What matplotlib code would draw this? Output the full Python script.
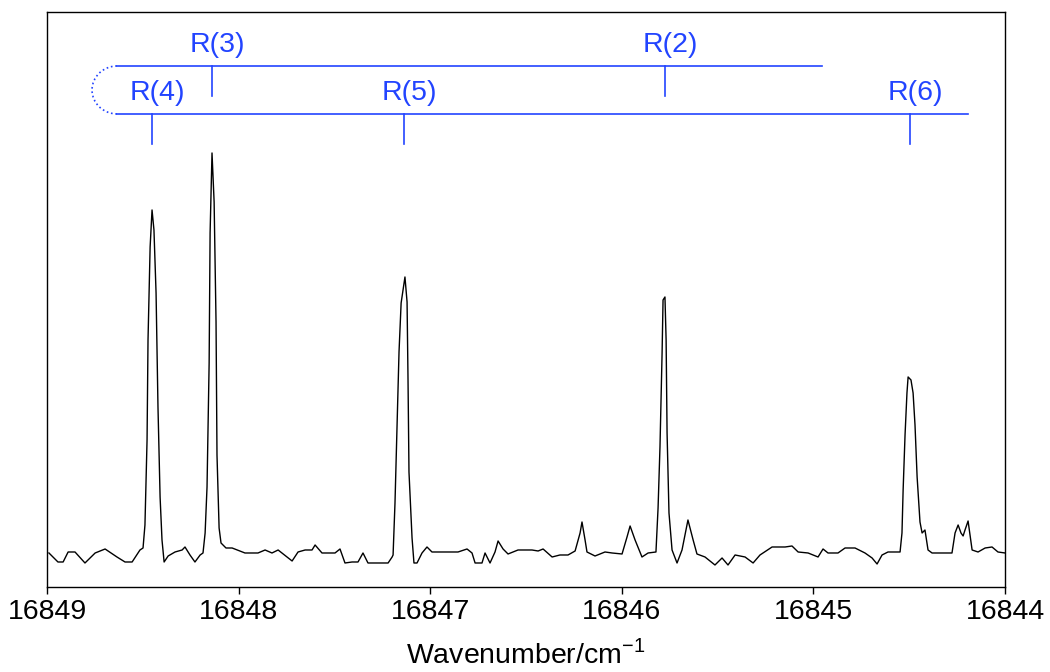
import matplotlib.pyplot as plt
from matplotlib.patches import Arc

plt.rcParams['font.family'] = ['Liberation Sans', 'DejaVu Sans']
plt.rcParams['mathtext.fontset'] = 'custom'
plt.rcParams['mathtext.rm'] = 'Liberation Sans'

# spectrum (wavenumber / cm-1, intensity arb. units)
wavenumber = [
    16848.990, 16848.943, 16848.916, 16848.890, 16848.854, 16848.802, 16848.749, 16848.697,
    16848.635, 16848.593, 16848.556, 16848.515, 16848.499, 16848.489, 16848.478, 16848.473,
    16848.462, 16848.452, 16848.442, 16848.431, 16848.421, 16848.410, 16848.400, 16848.389,
    16848.368, 16848.332, 16848.295, 16848.280, 16848.254, 16848.228, 16848.201, 16848.186,
    16848.175, 16848.165, 16848.154, 16848.149, 16848.139, 16848.128, 16848.118, 16848.113,
    16848.102, 16848.092, 16848.066, 16848.034, 16847.967, 16847.899, 16847.862, 16847.826,
    16847.794, 16847.721, 16847.690, 16847.653, 16847.617, 16847.601, 16847.565, 16847.497,
    16847.471, 16847.445, 16847.408, 16847.377, 16847.351, 16847.325, 16847.220, 16847.199,
    16847.194, 16847.184, 16847.173, 16847.163, 16847.152, 16847.142, 16847.132, 16847.121,
    16847.116, 16847.111, 16847.095, 16847.085, 16847.069, 16847.043, 16847.017, 16846.991,
    16846.855, 16846.808, 16846.782, 16846.766, 16846.730, 16846.714, 16846.688, 16846.662,
    16846.646, 16846.620, 16846.594, 16846.542, 16846.469, 16846.437, 16846.411, 16846.364,
    16846.323, 16846.281, 16846.244, 16846.218, 16846.208, 16846.192, 16846.182, 16846.140,
    16846.088, 16846.051, 16845.999, 16845.973, 16845.957, 16845.931, 16845.895, 16845.863,
    16845.822, 16845.811, 16845.801, 16845.790, 16845.785, 16845.775, 16845.769, 16845.764,
    16845.754, 16845.738, 16845.712, 16845.686, 16845.655, 16845.628, 16845.608, 16845.566,
    16845.514, 16845.477, 16845.446, 16845.409, 16845.357, 16845.315, 16845.279, 16845.216,
    16845.148, 16845.112, 16845.080, 16845.028, 16844.976, 16844.950, 16844.924, 16844.872,
    16844.835, 16844.783, 16844.731, 16844.694, 16844.668, 16844.642, 16844.611, 16844.559,
    16844.548, 16844.538, 16844.532, 16844.522, 16844.512, 16844.506, 16844.491, 16844.480,
    16844.470, 16844.459, 16844.444, 16844.433, 16844.418, 16844.402, 16844.381, 16844.329,
    16844.277, 16844.261, 16844.245, 16844.230, 16844.219, 16844.209, 16844.193, 16844.172,
    16844.141, 16844.104, 16844.068, 16844.037, 16844.000,
]
intensity = [
    34, 25, 25, 35, 35, 24, 34, 38,
    30, 25, 25, 37, 39, 62, 147, 247,
    340, 377, 357, 294, 180, 90, 47, 25,
    31, 35, 37, 40, 32, 25, 32, 34,
    54, 100, 224, 354, 434, 385, 265, 132,
    59, 44, 39, 39, 34, 34, 37, 34,
    37, 26, 35, 37, 37, 42, 34, 34,
    38, 24, 25, 25, 34, 24, 24, 30,
    32, 84, 164, 235, 284, 297, 310, 285,
    207, 115, 49, 24, 24, 34, 40, 35,
    35, 38, 34, 24, 24, 34, 24, 35,
    46, 38, 33, 37, 37, 36, 38, 30,
    32, 32, 36, 54, 65, 47, 35, 31,
    35, 34, 33, 50, 61, 47, 30, 34,
    35, 79, 140, 234, 287, 290, 247, 154,
    74, 37, 24, 37, 67, 47, 33, 30,
    22, 29, 22, 32, 30, 24, 32, 40,
    40, 41, 35, 34, 30, 38, 34, 34,
    39, 39, 34, 29, 23, 32, 35, 35,
    35, 54, 97, 152, 194, 210, 207, 194,
    162, 110, 65, 54, 57, 37, 34, 34,
    34, 54, 62, 54, 51, 57, 66, 37,
    35, 39, 40, 35, 34,
]

# line assignments
upper_labels = ['R(3)', 'R(2)']
upper_pos = [16848.139, 16845.775]
lower_labels = ['R(4)', 'R(5)', 'R(6)']
lower_pos = [16848.452, 16847.137, 16844.496]
upper_start, upper_end = 16848.635, 16844.955
lower_start, lower_end = 16848.635, 16844.193
upper_y, lower_y = 521, 473
tick_len = 30

blue = '#2244ff'
fig = plt.figure(figsize=(10.5, 6.72), dpi=100)
ax = fig.add_axes([0.0448, 0.1265, 0.9124, 0.8557])

ax.plot(wavenumber, intensity, color='black', lw=1.0)

ax.plot([upper_start, upper_end], [upper_y, upper_y], color=blue, lw=1.2)
ax.plot([lower_start, lower_end], [lower_y, lower_y], color=blue, lw=1.2)
for p, lab in zip(upper_pos, upper_labels):
    ax.plot([p, p], [upper_y, upper_y - tick_len], color=blue, lw=1.2)
    ax.text(p - 0.026, upper_y + 21, lab, color=blue, fontsize=20.5,
            ha='center', va='center')
for p, lab in zip(lower_pos, lower_labels):
    ax.plot([p, p], [lower_y, lower_y - tick_len], color=blue, lw=1.2)
    ax.text(p - 0.026, lower_y + 21, lab, color=blue, fontsize=20.5,
            ha='center', va='center')
ax.add_patch(Arc((upper_start, (upper_y + lower_y) / 2), 0.26, upper_y - lower_y,
                 theta1=-90, theta2=90, color=blue, lw=1.2, ls=':'))

ax.set_xlim(16849, 16844)
ax.set_ylim(0, 575)
ax.set_xticks([16849, 16848, 16847, 16846, 16845, 16844])
ax.set_xticklabels(['16849', '16848', '16847', '16846', '16845', '16844'])
ax.set_yticks([])
ax.tick_params(axis='x', direction='out', length=5, width=1, labelsize=20.5, pad=4)
for s in ax.spines.values():
    s.set_linewidth(1.0)
ax.set_xlabel('Wavenumber/cm$^{\\mathregular{-1}}$', fontsize=20.5, labelpad=10)

fig.savefig('out.png', dpi=100)
